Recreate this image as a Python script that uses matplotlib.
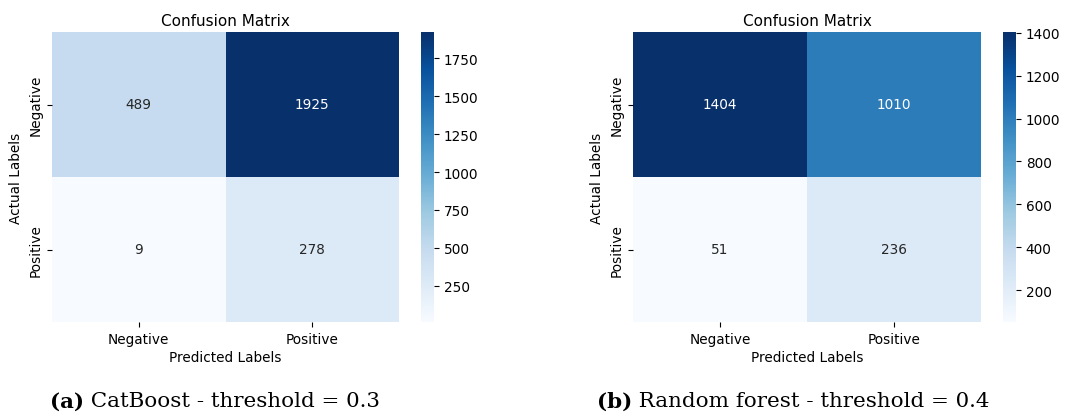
import numpy as np
import matplotlib
matplotlib.use('Agg')
import matplotlib.pyplot as plt
import seaborn as sns

# confusion matrices: rows = actual, cols = predicted
class_labels = ['Negative', 'Positive']
catboost_cm = [[489, 1925],
               [9, 278]]
forest_cm = [[1404, 1010],
             [51, 236]]
catboost_ticks = [250, 500, 750, 1000, 1250, 1500, 1750]
forest_ticks = [200, 400, 600, 800, 1000, 1200, 1400]
captions = [('(a)', ' CatBoost - threshold = 0.3'),
            ('(b)', ' Random forest - threshold = 0.4')]

W, H = 1079, 414
fig = plt.figure(figsize=(W / 100, H / 100), dpi=100)


def px_axes(x0, y0, x1, y1):
    return fig.add_axes([x0 / W, 1 - y1 / H, (x1 - x0) / W, (y1 - y0) / H])


def draw_cm(cm, ticks, hm_box, cb_box):
    ax = px_axes(*hm_box)
    cax = px_axes(*cb_box)
    sns.heatmap(np.array(cm), annot=True, fmt='d', cmap='Blues', ax=ax, cbar_ax=cax,
                xticklabels=class_labels, yticklabels=class_labels,
                annot_kws={'fontsize': 9.8})
    ax.set_title('Confusion Matrix', fontsize=11, pad=5)
    ax.set_xlabel('Predicted Labels', fontsize=9.8, labelpad=3)
    ax.set_ylabel('Actual Labels', fontsize=9.8, labelpad=4)
    ax.tick_params(labelsize=9.8)
    plt.setp(ax.get_yticklabels(), rotation=90, va='center')
    plt.setp(ax.get_xticklabels(), rotation=0)
    cax.set_yticks(ticks)
    cax.tick_params(labelsize=9.8)
    return ax


draw_cm(catboost_cm, catboost_ticks, (52, 33, 399, 323), (421, 33, 434, 323))
draw_cm(forest_cm, forest_ticks, (633, 33, 981, 323), (1003, 33, 1016, 323))

# sub-figure captions with bold prefix
renderer = fig.canvas.get_renderer()
for (tag, rest), x0 in zip(captions, [50, 597]):
    t = fig.text(x0 / W, 1 - 402 / H, tag, fontsize=15.4, fontweight='bold',
                 family='DejaVu Serif', va='center', ha='left')
    bb = t.get_window_extent(renderer)
    fig.text(bb.x1 / W, 1 - 402 / H, rest, fontsize=15.4,
             family='DejaVu Serif', va='center', ha='left')

fig.savefig('out.png', dpi=100)
